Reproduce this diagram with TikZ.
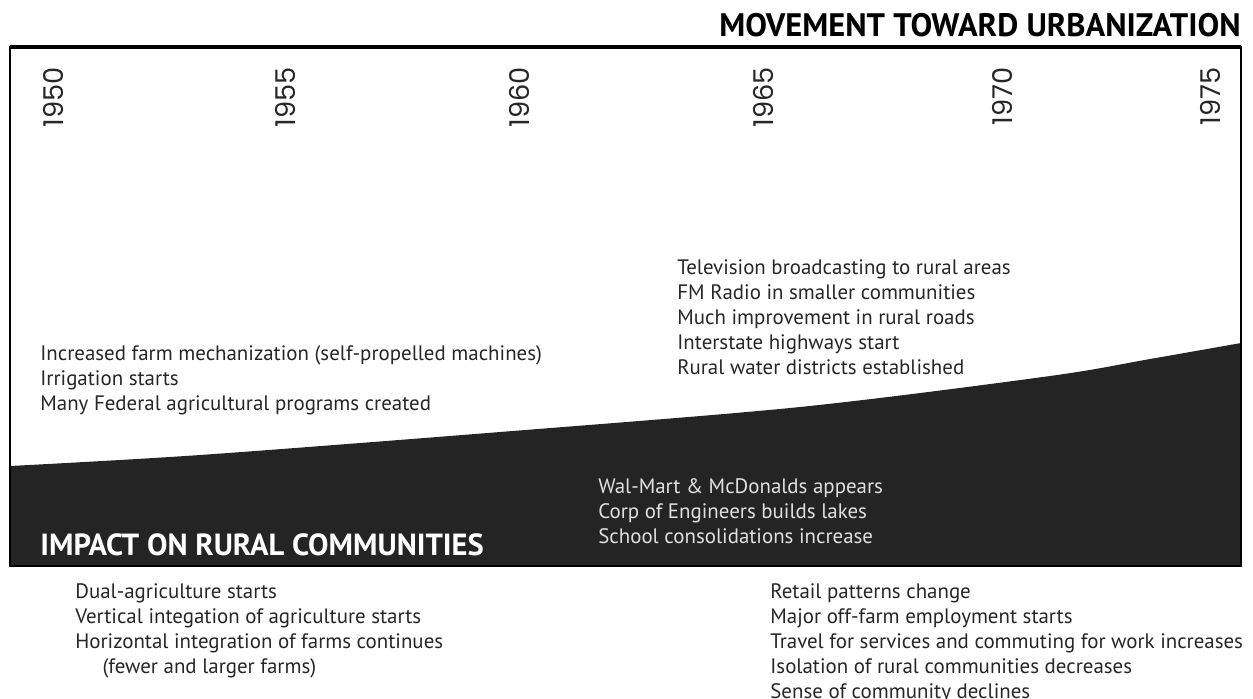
\documentclass[tikz,border=0pt]{standalone}
\usepackage{fontspec}
\setmainfont{PT Sans}
\newfontfamily\yearfont{Poppins}
\usetikzlibrary{positioning}

\begin{document}
\begin{tikzpicture}[x=0.02cm,y=-0.02cm,
    every node/.style={inner sep=0pt},
    note/.style={anchor=north west,align=left,text=black!85,
      font=\fontsize{11.9}{14.3}\selectfont},
    darknote/.style={note,text=black!12},
    year/.style={rotate=90,anchor=east,text=black!85,
      font=\yearfont\fontsize{15.5}{16}\selectfont},
    heading/.style={font=\bfseries\fontsize{17.4}{18}\selectfont}]
   \useasboundingbox (0,0) rectangle (1253,698);
   % rural side under the curve
   \fill[black!86] (10,566) -- plot[smooth] coordinates
      {(10,466) (200,455) (500,432) (800,407) (1050,376) (1150,359) (1241,343)}
      -- (1241,566) -- cycle;
   \draw[line width=1.2pt] (10,47) rectangle (1241,566);
   \draw[line width=2.4pt] (10,47) -- (1241,47);
   % years
   \foreach \yr/\xx in {1950/53,1955/285,1960/519,1965/763,1970/1002,1975/1210}
      \node[year] (y\yr) at (\xx,67) {\yr};
   \node[heading,anchor=base east,font=\bfseries\fontsize{18.5}{19}\selectfont] (urban)
      at (1241,36) {MOVEMENT TOWARD URBANIZATION};
   \node[heading,anchor=base west,text=white] (rural) at (40,555) {IMPACT ON RURAL COMMUNITIES};
   \node[note] (early) at (40,345) {Increased farm mechanization (self-propelled machines)\\
      Irrigation starts\\ Many Federal agricultural programs created};
   \node[note] (media) at (677,259) {Television broadcasting to rural areas\\
      FM Radio in smaller communities\\ Much improvement in rural roads\\
      Interstate highways start\\ Rural water districts established};
   \node[darknote] (lakes) at (598,478) {Wal-Mart \& McDonalds appears\\
      Corp of Engineers builds lakes\\ School consolidations increase};
   \node[note] (farms) at (75,583) {Dual-agriculture starts\\
      Vertical integation of agriculture starts\\
      Horizontal integration of farms continues\\
      \hspace*{1.3em}(fewer and larger farms)};
   \node[note] (towns) at (770,583) {Retail patterns change\\
      Major off-farm employment starts\\
      Travel for services and commuting for work increases\\
      Isolation of rural communities decreases\\
      Sense of community declines};
\end{tikzpicture}
\end{document}
